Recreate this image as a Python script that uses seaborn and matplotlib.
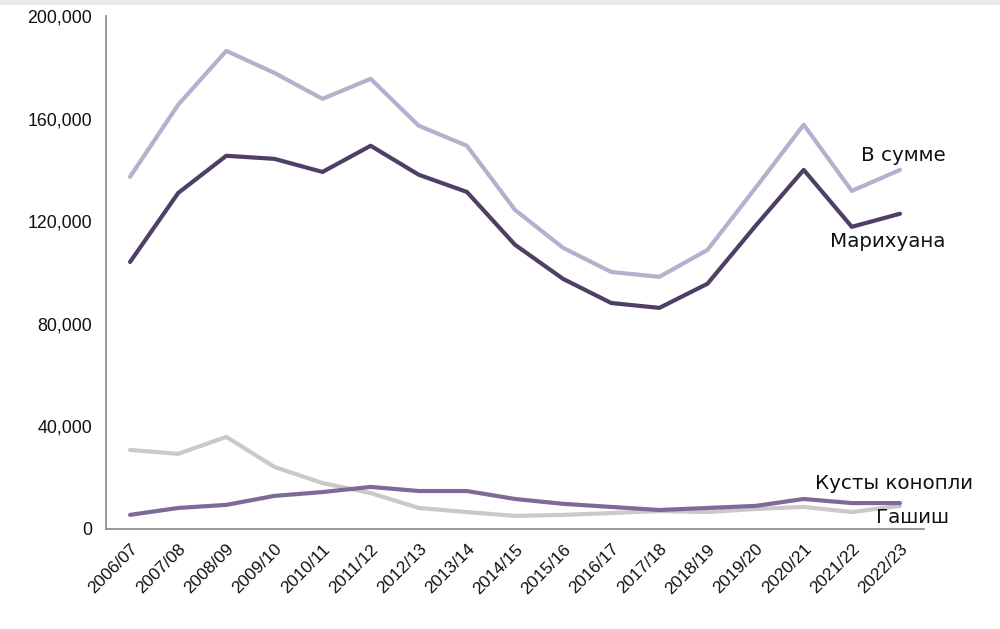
import matplotlib
matplotlib.use("Agg")
import matplotlib.pyplot as plt
import seaborn as sns
import pandas as pd
from matplotlib.ticker import FuncFormatter, FixedLocator
from matplotlib.patches import Rectangle

years = ["2006/07", "2007/08", "2008/09", "2009/10", "2010/11", "2011/12", "2012/13",
         "2013/14", "2014/15", "2015/16", "2016/17", "2017/18", "2018/19", "2019/20",
         "2020/21", "2021/22", "2022/23"]
total = [137300, 165400, 186400, 177800, 167700, 175500, 157200, 149400, 124400,
         109600, 100200, 98300, 108800, 133000, 157600, 131800, 140000]
marijuana = [104100, 131000, 145500, 144300, 139200, 149400, 138100, 131400, 110800,
             97500, 88100, 86200, 95600, 118200, 140000, 117800, 122900]
hashish = [30800, 29300, 35900, 24200, 17900, 14000, 8200, 6600, 5100,
           5500, 6200, 7000, 6600, 7800, 8600, 6600, 9000]
plants = [5500, 8200, 9400, 12900, 14400, 16400, 14800, 14800, 11700,
          9800, 8600, 7400, 8200, 9000, 11700, 10100, 10100]

names = ["В сумме", "Марихуана", "Гашиш", "Кусты конопли"]
colors = {"В сумме": "#b9aecb", "Марихуана": "#4f3f66",
          "Гашиш": "#c9c9c9", "Кусты конопли": "#7e6a9a"}

rows = []
for name, vals in zip(names, [total, marijuana, hashish, plants]):
    for i, (y, v) in enumerate(zip(years, vals)):
        rows.append({"idx": i, "year": y, "value": v, "series": name})
df = pd.DataFrame(rows)

sns.set_style("white")
plt.rcParams["font.family"] = ["Liberation Sans", "DejaVu Sans"]

fig = plt.figure(figsize=(10, 6.29), dpi=100)
fig.patches.append(Rectangle((0, 1 - 5 / 629), 1, 5 / 629, transform=fig.transFigure,
                             facecolor="#ebebeb", edgecolor="none", zorder=0))
ax = fig.add_axes([0.106, 0.159, 0.818, 0.8156])

sns.lineplot(data=df, x="idx", y="value", hue="series", hue_order=names,
             palette=colors, linewidth=3.0, legend=False, ax=ax)

ax.set_xlim(-0.5, len(years) - 0.5)
ax.set_ylim(0, 200000)
ax.set_yticks([0, 40000, 80000, 120000, 160000, 200000])
ax.yaxis.set_major_formatter(FuncFormatter(lambda v, p: f"{int(v):,}"))

ax.xaxis.set_major_locator(FixedLocator([i - 0.5 for i in range(len(years) + 1)]))
ax.xaxis.set_minor_locator(FixedLocator(list(range(len(years)))))
ax.set_xticklabels([], minor=False)
ax.set_xticklabels(years, minor=True, rotation=45, ha="right", rotation_mode="anchor")
ax.tick_params(axis="x", which="major", length=6, width=1.2, color="#888888", direction="out")
ax.tick_params(axis="x", which="minor", length=0, pad=9, labelsize=12.5, labelcolor="#111111")
ax.tick_params(axis="y", length=6, width=1.2, color="#888888", direction="out",
               labelsize=12.8, pad=4, labelcolor="#111111")
ax.set_xlabel("")
ax.set_ylabel("")

for s in ["top", "right"]:
    ax.spines[s].set_visible(False)
for s in ["left", "bottom"]:
    ax.spines[s].set_color("#888888")
    ax.spines[s].set_linewidth(1.2)

lab_font = ["DejaVu Sans"]
ax.text(15.2, 143500, "В сумме", fontsize=14.3, family=lab_font, color="#111111")
ax.text(14.55, 110000, "Марихуана", fontsize=14.3, family=lab_font, color="#111111")
ax.text(14.23, 15500, "Кусты конопли", fontsize=14.3, family=lab_font, color="#111111")
ax.text(15.5, 2300, "Гашиш", fontsize=14.3, family=lab_font, color="#111111")

fig.savefig("out.png", dpi=100, facecolor="white")
